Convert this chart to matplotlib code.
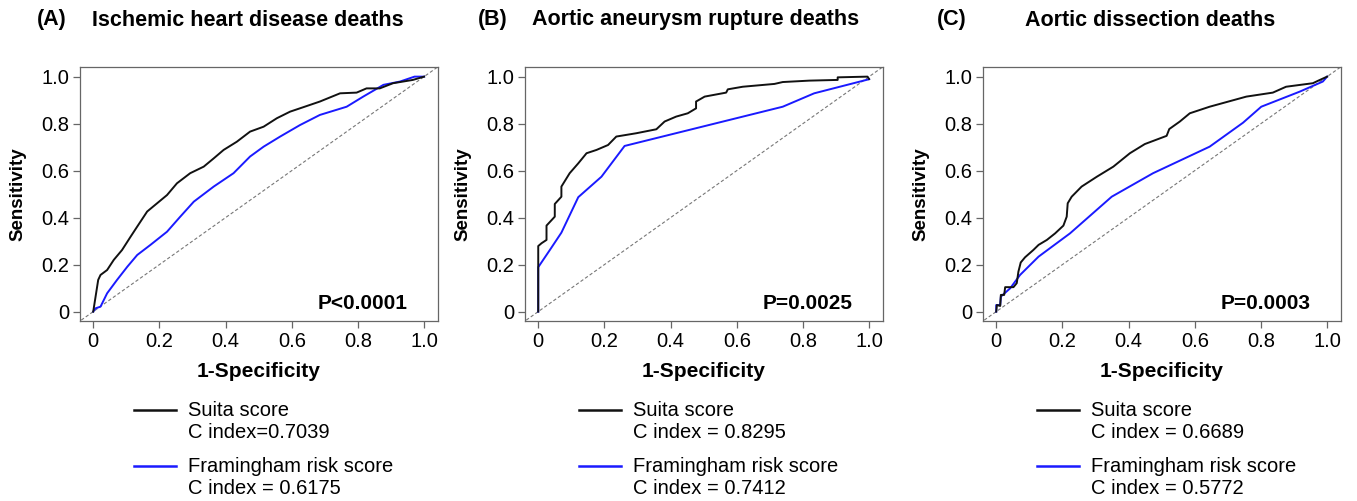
import matplotlib
matplotlib.use('Agg')
import matplotlib.pyplot as plt
from matplotlib.lines import Line2D

plt.rcParams['font.family'] = ['Liberation Sans', 'DejaVu Sans']

# (A) Ischemic heart disease deaths
a_suita_x = [0, 0.015, 0.022, 0.042, 0.062, 0.087, 0.113, 0.133, 0.163, 0.193, 0.223, 0.253, 0.293,
             0.334, 0.364, 0.394, 0.434, 0.474, 0.515, 0.555, 0.595, 0.635, 0.685, 0.746, 0.796,
             0.826, 0.866, 0.906, 0.966, 1.0]
a_suita_y = [0, 0.135, 0.156, 0.177, 0.22, 0.262, 0.319, 0.362, 0.426, 0.461, 0.496, 0.546, 0.589,
             0.617, 0.652, 0.688, 0.723, 0.766, 0.787, 0.823, 0.851, 0.870, 0.894, 0.929, 0.932,
             0.950, 0.950, 0.972, 0.986, 1.0]
a_fram_x = [0, 0.007, 0.022, 0.042, 0.072, 0.103, 0.133, 0.173, 0.223, 0.263, 0.304, 0.364, 0.424,
            0.474, 0.515, 0.565, 0.625, 0.685, 0.766, 0.816, 0.877, 0.927, 0.971, 1.0]
a_fram_y = [0, 0.014, 0.021, 0.078, 0.135, 0.191, 0.241, 0.284, 0.340, 0.404, 0.468, 0.532, 0.589,
            0.660, 0.702, 0.745, 0.794, 0.837, 0.872, 0.915, 0.965, 0.979, 1.0, 1.0]

# (B) Aortic aneurysm rupture deaths
b_suita_x = [0, 0, 0.010, 0.025, 0.025, 0.050, 0.050, 0.070, 0.070, 0.095, 0.121, 0.146, 0.176,
             0.211, 0.236, 0.296, 0.357, 0.382, 0.417, 0.452, 0.477, 0.477, 0.503, 0.568, 0.573,
             0.618, 0.714, 0.739, 0.819, 0.905, 0.905, 0.995, 1.0]
b_suita_y = [0, 0.279, 0.291, 0.305, 0.366, 0.404, 0.458, 0.489, 0.532, 0.589, 0.631, 0.674, 0.688,
             0.709, 0.745, 0.759, 0.776, 0.809, 0.830, 0.844, 0.865, 0.894, 0.915, 0.932, 0.946,
             0.957, 0.969, 0.977, 0.983, 0.986, 0.997, 1.0, 0.99]
b_fram_x = [0, 0, 0.035, 0.070, 0.121, 0.191, 0.261, 0.739, 0.834, 1.0]
b_fram_y = [0, 0.189, 0.262, 0.336, 0.487, 0.574, 0.705, 0.872, 0.929, 0.989]

# (C) Aortic dissection deaths
c_suita_x = [0, 0.002, 0.012, 0.014, 0.024, 0.027, 0.052, 0.062, 0.067, 0.074, 0.087, 0.112, 0.128,
             0.153, 0.178, 0.203, 0.213, 0.216, 0.228, 0.258, 0.304, 0.354, 0.404, 0.449, 0.515,
             0.523, 0.555, 0.585, 0.645, 0.756, 0.836, 0.876, 0.957, 0.972, 1.0]
c_suita_y = [0, 0.028, 0.024, 0.071, 0.071, 0.104, 0.104, 0.121, 0.170, 0.209, 0.231, 0.262, 0.284,
             0.305, 0.333, 0.366, 0.404, 0.461, 0.489, 0.532, 0.574, 0.617, 0.674, 0.713, 0.748,
             0.777, 0.809, 0.844, 0.872, 0.915, 0.932, 0.957, 0.972, 0.982, 1.0]
c_fram_x = [0, 0, 0.012, 0.014, 0.042, 0.072, 0.128, 0.223, 0.349, 0.474, 0.645, 0.746, 0.801,
            0.917, 0.987, 1.0]
c_fram_y = [0, 0.028, 0.028, 0.064, 0.099, 0.156, 0.234, 0.333, 0.489, 0.589, 0.702, 0.804, 0.872,
            0.936, 0.979, 1.0]

letters = ['(A)', '(B)', '(C)']
titles = ['Ischemic heart disease deaths', 'Aortic aneurysm rupture deaths', 'Aortic dissection deaths']
p_values = ['P<0.0001', 'P=0.0025', 'P=0.0003']
suita_c = ['C index=0.7039', 'C index = 0.8295', 'C index = 0.6689']
fram_c = ['C index = 0.6175', 'C index = 0.7412', 'C index = 0.5772']
suita_x = [a_suita_x, b_suita_x, c_suita_x]
suita_y = [a_suita_y, b_suita_y, c_suita_y]
fram_x = [a_fram_x, b_fram_x, c_fram_x]
fram_y = [a_fram_y, b_fram_y, c_fram_y]

W, H = 1357, 501
fig = plt.figure(figsize=(W / 100, H / 100), dpi=100)

ax_left = [80, 525, 983]
letter_x = [37, 478, 937]
title_x = [92, 532, 1025]
ax_top, ax_bot, ax_w = 67, 321, 358

blue = '#1a1aff'
for i in range(3):
    ax = fig.add_axes([ax_left[i] / W, 1 - ax_bot / H, ax_w / W, (ax_bot - ax_top) / H])
    ax.plot([-0.05, 1.05], [-0.05, 1.05], ls=(0, (3, 2)), color='#777777', lw=0.8)
    ax.plot(fram_x[i], fram_y[i], color=blue, lw=1.4)
    ax.plot(suita_x[i], suita_y[i], color='#111111', lw=1.4)
    ax.set_xlim(-0.04, 1.042)
    ax.set_ylim(-0.04, 1.041)
    ticks = [0, 0.2, 0.4, 0.6, 0.8, 1.0]
    ticklab = ['0', '0.2', '0.4', '0.6', '0.8', '1.0']
    ax.set_xticks(ticks)
    ax.set_xticklabels(ticklab)
    ax.set_yticks(ticks)
    ax.set_yticklabels(ticklab)
    ax.tick_params(labelsize=14.5, length=5, width=0.9, color='#666666', pad=3)
    for s in ax.spines.values():
        s.set_color('#666666')
        s.set_linewidth(0.9)
    ax.set_ylabel('Sensitivity', fontsize=13.5, fontweight='bold')
    ax.yaxis.set_label_coords(-0.172, 0.5)
    ax.yaxis.label.set_va('center')
    ax.set_xlabel('1-Specificity', fontsize=15, fontweight='bold')
    ax.xaxis.set_label_coords(0.5, -0.2)
    ax.xaxis.label.set_va('center')
    ax.text(0.949, 0.035, p_values[i], fontsize=15, fontweight='bold', ha='right', va='center')

    fig.text(letter_x[i] / W, 1 - 20 / H, letters[i], fontsize=15.5, fontweight='bold', va='center')
    fig.text(title_x[i] / W, 1 - 20 / H, titles[i], fontsize=15.5, fontweight='bold', va='center')

    # legend
    lx0 = ax_left[i] + 54
    lx1 = lx0 + 42
    tx = ax_left[i] + 108
    fig.add_artist(Line2D([lx0 / W, lx1 / W], [1 - 410 / H, 1 - 410 / H], color='#111111', lw=1.8))
    fig.add_artist(Line2D([lx0 / W, lx1 / W], [1 - 466 / H, 1 - 466 / H], color=blue, lw=1.8))
    fig.text(tx / W, 1 - 411 / H, 'Suita score', fontsize=14.5, va='center')
    fig.text(tx / W, 1 - 433 / H, suita_c[i], fontsize=14.5, va='center')
    fig.text(tx / W, 1 - 466 / H, 'Framingham risk score', fontsize=14.5, va='center')
    fig.text(tx / W, 1 - 488 / H, fram_c[i], fontsize=14.5, va='center')

fig.savefig('out.png', dpi=100)
